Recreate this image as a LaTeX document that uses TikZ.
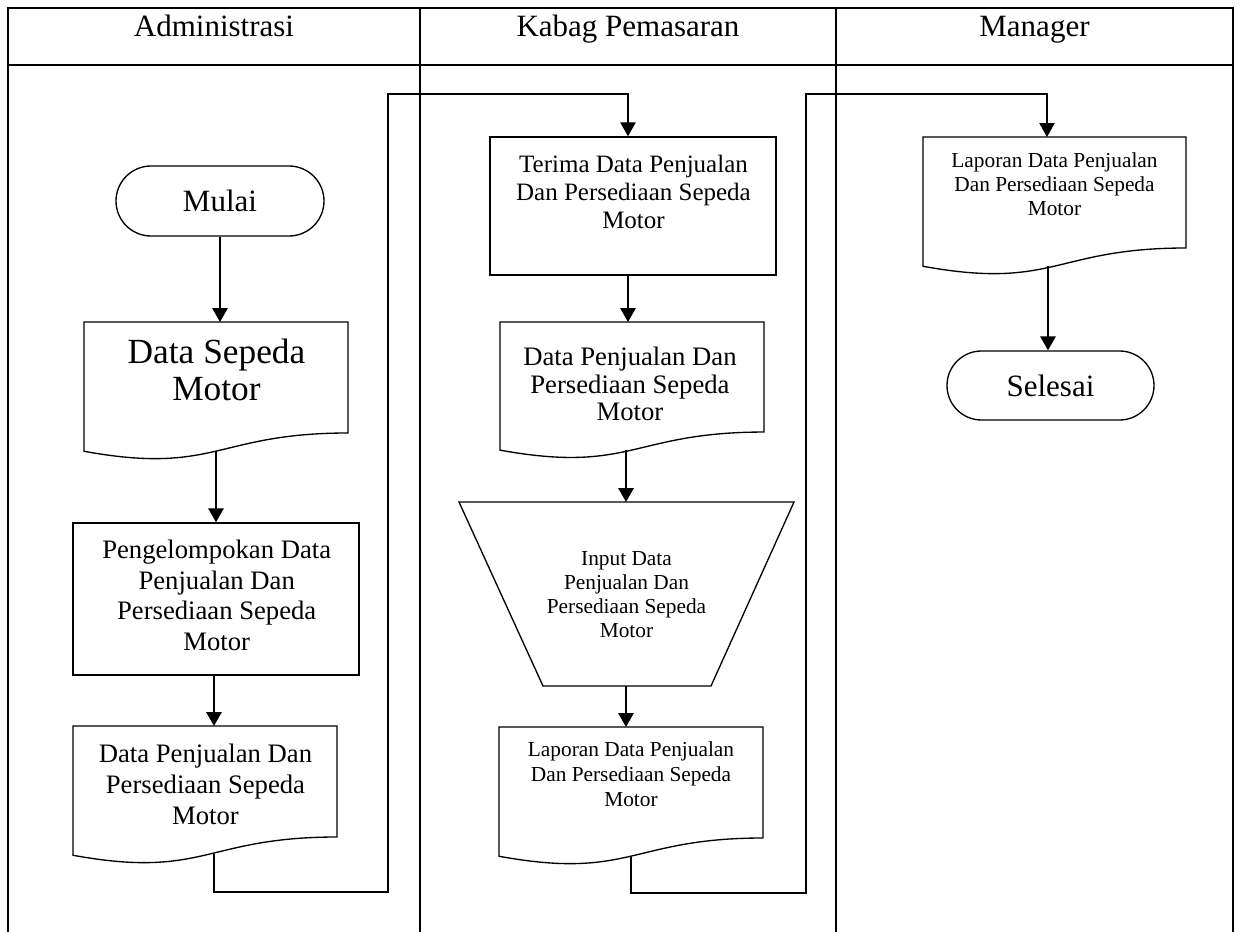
\documentclass[tikz,border=0pt]{standalone}
\usepackage{fontspec}
\setmainfont{Liberation Serif}
\usetikzlibrary{arrows.meta,shapes.misc}

% Flowchart "document" symbol: left, top, width, nominal height
\newcommand\docshape[5]{%
  \draw[shapeline] (#2,#3) -- (#2+#4,#3) -- (#2+#4,#3+0.802*#5)
    .. controls (#2+0.5*#4,#3+0.802*#5) and (#2+0.5*#4,#3+1.1075*#5) ..
    (#2,#3+0.934*#5) -- cycle;
  \coordinate (#1-in) at (#2+0.5*#4,#3);
  \coordinate (#1-out) at (#2+0.5*#4,#3+0.933*#5);
}

\tikzset{
  lane/.style={line width=1.5pt, line join=miter},
  shapeline/.style={line width=1pt},
  procbox/.style={draw, rectangle, line width=1pt, inner sep=0pt},
  terminal/.style={draw, rounded rectangle, line width=1pt, inner sep=0pt,
    font=\fontsize{23.25}{26}\selectfont},
  head/.style={anchor=base, inner sep=0pt, font=\fontsize{23.25}{26}\selectfont},
  txt/.style={align=center, inner sep=0pt, anchor=north},
  flow/.style={line width=1.5pt, -{Triangle[width=11.5pt,length=10.5pt]}},
  route/.style={line width=0.9pt, -{Triangle[width=11.5pt,length=10.5pt]}}
}

\begin{document}
\begin{tikzpicture}[x=0.75pt,y=-0.75pt]
\useasboundingbox (0,0) rectangle (1240,932);

% swimlanes
\draw[lane] (8,932) -- (8,8) -- (1233,8) -- (1233,932);
\draw[lane] (8,64.5) -- (1233,64.5);
\draw[lane] (420,8) -- (420,932);
\draw[lane] (836,8) -- (836,932);
\node[head] (h1) at (214,36) {Administrasi};
\node[head] (h2) at (628,36) {Kabag Pemasaran};
\node[head] (h3) at (1034.5,36) {Manager};

% ---- Administrasi ----
\node[terminal, minimum width=156pt, minimum height=52.5pt] (mulai) at (220,201) {Mulai};

\docshape{ds}{84}{322}{264}{138.4}
\node[txt, font=\fontsize{26.5}{27.75}\selectfont] (dstext) at (216.5,338.8) {Data Sepeda\\Motor};

\node[procbox, minimum width=214.5pt, minimum height=114pt] (pk) at (216,599) {};
\node[txt, font=\fontsize{20}{23}\selectfont] (pktext) at (216.7,539.8)
  {Pengelompokan Data\\Penjualan Dan\\Persediaan Sepeda\\Motor};

\docshape{dp1}{73}{726}{264}{138.4}
\node[txt, font=\fontsize{20}{23}\selectfont] (dp1text) at (205.5,744)
  {Data Penjualan Dan\\Persediaan Sepeda\\Motor};

% ---- Kabag Pemasaran ----
\node[procbox, minimum width=214.5pt, minimum height=103.5pt] (tr) at (633,206) {};
\node[txt, font=\fontsize{18.75}{21}\selectfont] (trtext) at (633.5,155)
  {Terima Data Penjualan\\Dan Persediaan Sepeda\\Motor};

\docshape{dp2}{500}{322}{264}{137.2}
\node[txt, font=\fontsize{20}{20.6}\selectfont] (dp2text) at (630,346.8)
  {Data Penjualan Dan\\Persediaan Sepeda\\Motor};

% manual input symbol
\draw[shapeline] (459,502) -- (794,502) -- (711,686) -- (543,686) -- cycle;
\coordinate (ip-in) at (626,502);
\coordinate (ip-out) at (626,686);
\node[txt, font=\fontsize{16}{18}\selectfont] (iptext) at (626.5,551.5)
  {Input Data\\Penjualan Dan\\Persediaan Sepeda\\Motor};

\docshape{lp2}{499}{727}{264}{138.4}
\node[txt, font=\fontsize{16}{18.75}\selectfont] (lp2text) at (631,741.5)
  {Laporan Data Penjualan\\Dan Persediaan Sepeda\\Motor};

% ---- Manager ----
\docshape{lp3}{923}{137}{263}{138.4}
\node[txt, font=\fontsize{16}{18}\selectfont] (lp3text) at (1054.5,152.5)
  {Laporan Data Penjualan\\Dan Persediaan Sepeda\\Motor};

\node[terminal, minimum width=155.25pt, minimum height=51.75pt] (selesai) at (1050.5,385.5) {Selesai};

% ---- flow ----
\draw[flow] (mulai.south) -- (mulai.south |- ds-in);
\draw[flow] (ds-out) -- (ds-out |- pk.north);
\draw[flow] ([xshift=-1.5pt]pk.south) -- ([xshift=-1.5pt]pk.south |- dp1-in);

\coordinate (b1a) at (214,892);
\coordinate (b1b) at (388,892);
\coordinate (b1c) at (388,94);
\coordinate (b1d) at (628,94);
\draw[route] ([xshift=6.75pt,yshift=1.2pt]dp1-out) -- (b1a) -- (b1b) -- (b1c) -- (b1d) -- (b1d |- tr.north);

\draw[flow] ([xshift=-3.75pt]tr.south) -- ([xshift=-3.75pt]tr.south |- dp2-in);
\draw[flow] ([xshift=-4.5pt]dp2-out) -- ([xshift=-4.5pt]dp2-out |- ip-in);
\draw[flow] (ip-out) -- (ip-out |- lp2-in);

\coordinate (b2a) at (631,893);
\coordinate (b2b) at (806,893);
\coordinate (b2c) at (806,94);
\coordinate (b2d) at (1047,94);
\draw[route] (lp2-out) -- (b2a) -- (b2b) -- (b2c) -- (b2d) -- (b2d |- lp3-in);

\draw[flow] ([xshift=-4.875pt]lp3-out) -- ([xshift=-4.875pt]lp3-out |- selesai.north);
\end{tikzpicture}
\end{document}
